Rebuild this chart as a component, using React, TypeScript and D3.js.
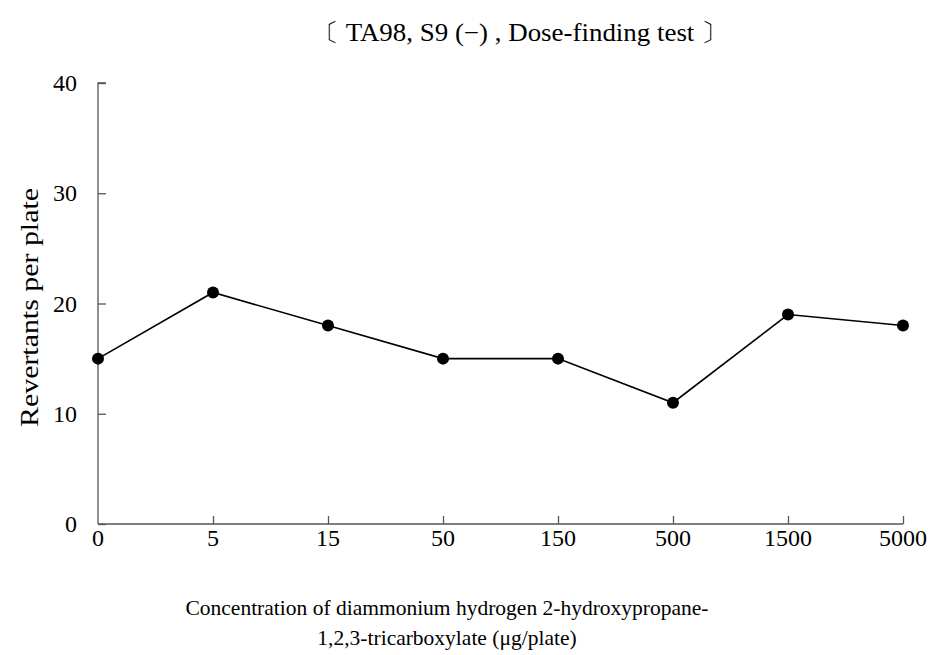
import React, { useEffect, useRef } from 'react';
import * as d3 from 'd3';

const doses = ['0', '5', '15', '50', '150', '500', '1500', '5000'];
const revertants = [15, 21, 18, 15, 15, 11, 19, 18];
const yTicks = [0, 10, 20, 30, 40];

const W = 935;
const H = 655;
const margin = { top: 83, right: 32, bottom: 131, left: 98 };
const font = '"Liberation Serif", "Times New Roman", serif';

export default function App() {
  const ref = useRef<SVGSVGElement>(null);

  useEffect(() => {
    const svg = d3.select(ref.current);
    svg.selectAll('*').remove();

    const x = d3.scalePoint<string>()
      .domain(doses)
      .range([margin.left, W - margin.right]);
    const y = d3.scaleLinear()
      .domain([0, 40])
      .range([H - margin.bottom, margin.top]);

    const axisColor = '#555';

    // y axis, ticks inward
    const yAxis = svg.append('g')
      .attr('transform', `translate(${margin.left},0)`)
      .call(d3.axisRight(y).tickValues(yTicks).tickSize(8).tickFormat(() => ''));
    yAxis.select('.domain').attr('stroke', axisColor).attr('stroke-width', 1.3).attr('d', `M0,${y(0)}V${y(40)}h8`);
    yAxis.selectAll('.tick line').attr('stroke', axisColor).attr('stroke-width', 1.3);

    svg.append('g').selectAll('text')
      .data(yTicks)
      .enter().append('text')
      .attr('x', margin.left - 21)
      .attr('y', (d) => y(d))
      .attr('text-anchor', 'end')
      .attr('dominant-baseline', 'central')
      .style('font-family', font)
      .style('font-size', '24px')
      .text((d) => d);

    // x axis, ticks inward
    const xAxis = svg.append('g')
      .attr('transform', `translate(0,${y(0)})`)
      .call(d3.axisTop(x).tickSize(8).tickFormat(() => ''));
    xAxis.select('.domain').attr('stroke', axisColor).attr('stroke-width', 1.3)
      .attr('d', `M${x('0')},0H${x('5000')}`);
    xAxis.selectAll('.tick line').attr('stroke', axisColor).attr('stroke-width', 1.3);
    xAxis.selectAll('.tick').filter((d) => d === '0').select('line').remove();

    svg.append('g').selectAll('text')
      .data(doses)
      .enter().append('text')
      .attr('x', (d) => x(d) as number)
      .attr('y', y(0) + 14)
      .attr('text-anchor', 'middle')
      .attr('dominant-baseline', 'central')
      .style('font-family', font)
      .style('font-size', '24px')
      .text((d) => d);

    // line and markers
    const line = d3.line<number>()
      .x((_, i) => x(doses[i]) as number)
      .y((d) => y(d));
    svg.append('path')
      .datum(revertants)
      .attr('d', line)
      .attr('fill', 'none')
      .attr('stroke', '#000')
      .attr('stroke-width', 1.6);
    svg.append('g').selectAll('circle')
      .data(revertants)
      .enter().append('circle')
      .attr('cx', (_, i) => x(doses[i]) as number)
      .attr('cy', (d) => y(d))
      .attr('r', 6)
      .attr('fill', '#000');

    // titles
    svg.append('text')
      .attr('x', 312)
      .attr('y', 32)
      .attr('textLength', 416)
      .attr('lengthAdjust', 'spacingAndGlyphs')
      .attr('dominant-baseline', 'central')
      .style('font-family', font)
      .style('font-size', '25px')
      .text('〔 TA98, S9 (−) , Dose-finding test 〕');

    svg.append('text')
      .attr('transform', `translate(29,427) rotate(-90)`)
      .attr('textLength', 239)
      .attr('lengthAdjust', 'spacingAndGlyphs')
      .attr('dominant-baseline', 'central')
      .style('font-family', font)
      .style('font-size', '26px')
      .text('Revertants per plate');

    const xt = svg.append('text')
      .attr('text-anchor', 'middle')
      .style('font-family', font)
      .style('font-size', '21.5px');
    xt.append('tspan').attr('x', 447).attr('y', 615).text('Concentration of diammonium hydrogen 2-hydroxypropane-');
    xt.append('tspan').attr('x', 447).attr('y', 645).text('1,2,3-tricarboxylate (μg/plate)');
  }, []);

  return (
    <svg ref={ref} width={W} height={H} style={{ display: 'block', position: 'absolute', left: 0, top: 0, background: '#fff' }} />
  );
}
